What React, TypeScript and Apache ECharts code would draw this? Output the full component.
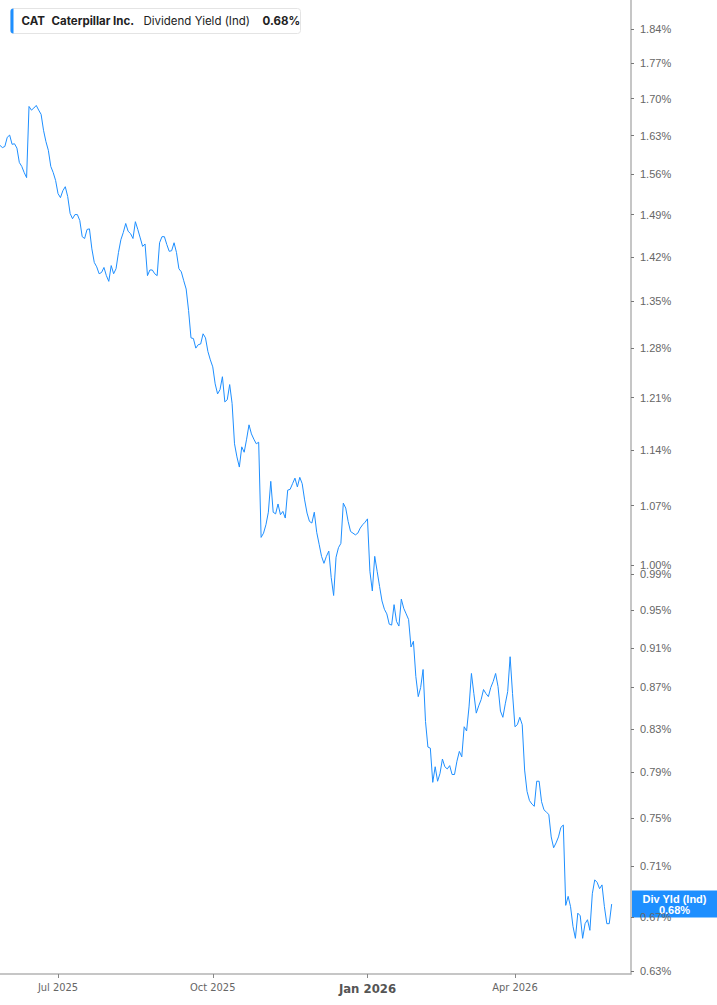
import React, { useEffect, useRef } from 'react';
import * as echarts from 'echarts';

// ---- data ----
const START_DATE = '2025-05-27';
const HOLIDAYS = [
  '2025-06-19', '2025-07-04', '2025-09-01', '2025-11-27', '2025-12-25',
  '2026-01-01', '2026-01-19', '2026-02-16', '2026-04-03', '2026-05-25',
];
const TOTAL_SLOTS = 262; // trading-day slots on the axis (data + right padding)

// Dividend yield (%) per trading day
const yieldValues = [
  1.612, 1.608, 1.610, 1.627, 1.631, 1.614, 1.615, 1.607, 1.581, 1.574,
  1.563, 1.554, 1.685, 1.678, 1.682, 1.687, 1.678, 1.670, 1.640, 1.619,
  1.603, 1.574, 1.563, 1.549, 1.526, 1.519, 1.531, 1.538, 1.521, 1.492,
  1.483, 1.490, 1.490, 1.480, 1.453, 1.450, 1.465, 1.466, 1.433, 1.411,
  1.404, 1.393, 1.395, 1.403, 1.390, 1.381, 1.406, 1.393, 1.401, 1.427,
  1.448, 1.460, 1.475, 1.462, 1.458, 1.450, 1.478, 1.465, 1.451, 1.437,
  1.441, 1.390, 1.399, 1.399, 1.393, 1.390, 1.443, 1.453, 1.453, 1.440,
  1.429, 1.430, 1.443, 1.427, 1.401, 1.396, 1.382, 1.369, 1.336, 1.295,
  1.294, 1.280, 1.285, 1.286, 1.301, 1.295, 1.275, 1.263, 1.253, 1.229,
  1.215, 1.221, 1.239, 1.204, 1.207, 1.228, 1.202, 1.148, 1.131, 1.118,
  1.144, 1.137, 1.154, 1.173, 1.161, 1.154, 1.148, 1.150, 1.032, 1.037,
  1.047, 1.062, 1.100, 1.062, 1.060, 1.072, 1.059, 1.063, 1.055, 1.089,
  1.090, 1.097, 1.104, 1.093, 1.105, 1.097, 1.077, 1.061, 1.051, 1.049,
  1.062, 1.038, 1.024, 1.010, 1.002, 1.010, 1.016, 0.986, 0.966, 1.009,
  1.020, 1.025, 1.073, 1.067, 1.051, 1.039, 1.037, 1.035, 1.037, 1.043,
  1.047, 1.050, 1.054, 0.993, 0.971, 1.010, 0.993, 0.976, 0.960, 0.951,
  0.946, 0.935, 0.934, 0.956, 0.938, 0.933, 0.962, 0.952, 0.946, 0.940,
  0.911, 0.917, 0.881, 0.861, 0.870, 0.888, 0.837, 0.813, 0.812, 0.781,
  0.795, 0.782, 0.789, 0.802, 0.795, 0.793, 0.796, 0.788, 0.788, 0.800,
  0.809, 0.804, 0.832, 0.828, 0.851, 0.884, 0.864, 0.845, 0.852, 0.858,
  0.868, 0.864, 0.861, 0.870, 0.876, 0.884, 0.871, 0.847, 0.841, 0.854,
  0.866, 0.901, 0.864, 0.832, 0.834, 0.841, 0.834, 0.792, 0.773, 0.765,
  0.762, 0.760, 0.782, 0.782, 0.764, 0.757, 0.755, 0.753, 0.734, 0.725,
  0.729, 0.734, 0.742, 0.744, 0.679, 0.686, 0.678, 0.663, 0.654, 0.673,
  0.671, 0.654, 0.665, 0.668, 0.660, 0.688, 0.699, 0.697, 0.692, 0.695,
  0.678, 0.665, 0.665, 0.680,
];

const yTicks = [
  1.84, 1.77, 1.70, 1.63, 1.56, 1.49, 1.42, 1.35, 1.28, 1.21, 1.14, 1.07,
  1.0, 0.99, 0.95, 0.91, 0.87, 0.83, 0.79, 0.75, 0.71, 0.67, 0.63,
];
const Y_MIN = 0.628;
const Y_MAX = 1.902;
const LABEL_MONTHS = [0, 3, 6, 9];
const MONTH_NAMES = ['Jan', 'Feb', 'Mar', 'Apr', 'May', 'Jun', 'Jul', 'Aug', 'Sep', 'Oct', 'Nov', 'Dec'];

const LEGEND_TICKER = 'CAT';
const LEGEND_NAME = 'Caterpillar Inc.';
const LEGEND_METRIC = 'Dividend Yield (Ind)';
const END_LABEL_TITLE = 'Div Yld (Ind)';

const LINE_COLOR = '#1e8fff';

function tradingDays(start: string, count: number, holidays: string[]): string[] {
  const out: string[] = [];
  const d = new Date(start + 'T00:00:00Z');
  while (out.length < count) {
    const wd = d.getUTCDay();
    const iso = d.toISOString().slice(0, 10);
    if (wd !== 0 && wd !== 6 && holidays.indexOf(iso) < 0) out.push(iso);
    d.setUTCDate(d.getUTCDate() + 1);
  }
  return out;
}

export default function App() {
  const ref = useRef<HTMLDivElement>(null);

  useEffect(() => {
    if (!ref.current) return;
    const chart = echarts.init(ref.current, null, { renderer: 'svg' });

    const dates = tradingDays(START_DATE, TOTAL_SLOTS, HOLIDAYS);
    const labelIdx = new Set<number>();
    dates.forEach((d, i) => {
      if (i === 0) return;
      const m = Number(d.slice(5, 7)) - 1;
      const pm = Number(dates[i - 1].slice(5, 7)) - 1;
      if (m !== pm && LABEL_MONTHS.indexOf(m) >= 0) labelIdx.add(i);
    });
    const showAt = (i: number) => labelIdx.has(i);

    const seriesData = yieldValues.map((v) => Math.log(v));
    const last = yieldValues[yieldValues.length - 1];

    chart.setOption({
      animation: false,
      grid: { left: 0, right: 86, top: 0, bottom: 31, containLabel: false },
      xAxis: {
        type: 'category',
        data: dates,
        boundaryGap: false,
        axisLine: { show: true, onZero: false, lineStyle: { color: '#b3b3b3', width: 1.5 } },
        axisTick: { show: true, interval: (i: number) => showAt(i), length: 4, lineStyle: { color: '#888' } },
        axisLabel: {
          interval: (i: number) => showAt(i),
          margin: 8,
          color: '#666',
          fontSize: 11,
          fontFamily: "'Liberation Sans Narrow', 'DejaVu Sans Condensed', Roboto, sans-serif",
          formatter: (val: string) => {
            const m = Number(val.slice(5, 7)) - 1;
            const y = val.slice(0, 4);
            const txt = MONTH_NAMES[m] + ' ' + y;
            return m === 0 ? '{b|' + txt + '}' : txt;
          },
          rich: {
            b: {
              fontWeight: 'bold',
              fontSize: 13,
              color: '#555',
              fontFamily: "'Liberation Sans Narrow', 'DejaVu Sans Condensed', Roboto, sans-serif",
            },
          },
        },
        splitLine: { show: false },
      },
      yAxis: {
        type: 'value',
        position: 'right',
        min: Math.log(Y_MIN),
        max: Math.log(Y_MAX),
        axisLine: { show: true, lineStyle: { color: '#b3b3b3', width: 1.5 } },
        axisTick: {
          show: true,
          length: 3,
          customValues: yTicks.map((t) => Math.log(t)),
          lineStyle: { color: '#777' },
        },
        axisLabel: {
          show: true,
          margin: 9,
          color: '#666',
          fontSize: 11,
          fontFamily: "'Liberation Sans', Arial, sans-serif",
          customValues: yTicks.map((t) => Math.log(t)),
          hideOverlap: false,
          formatter: (v: number) => Math.exp(v).toFixed(2) + '%',
        },
        splitLine: { show: false },
      },
      series: [
        {
          type: 'line',
          data: seriesData,
          showSymbol: false,
          symbol: 'none',
          lineStyle: { color: LINE_COLOR, width: 1 },
          itemStyle: { color: LINE_COLOR },
        },
      ],
    });

    const yPix = chart.convertToPixel({ yAxisIndex: 0 }, Math.log(last)) as number;
    const lastText = last.toFixed(2) + '%';
    const legendFont = "11.5px Inter, 'Noto Sans', sans-serif";
    const legendBold = "bold 11.5px Inter, 'Noto Sans', sans-serif";

    chart.setOption({
      graphic: [
        {
          type: 'group',
          left: 10,
          top: 8,
          children: [
            {
              type: 'rect',
              shape: { x: 0, y: 0, width: 290, height: 25, r: 3 },
              style: { fill: '#fff', stroke: '#e4e4e4', lineWidth: 1 },
            },
            {
              type: 'rect',
              shape: { x: 0, y: 0, width: 3, height: 25, r: [3, 0, 0, 3] },
              style: { fill: LINE_COLOR },
            },
            {
              type: 'text',
              x: 11,
              y: 12.5,
              style: { text: LEGEND_TICKER, fill: '#222', font: legendBold, verticalAlign: 'middle' },
            },
            {
              type: 'text',
              x: 41,
              y: 12.5,
              style: { text: LEGEND_NAME, fill: '#222', font: legendBold, verticalAlign: 'middle' },
            },
            {
              type: 'text',
              x: 133,
              y: 12.5,
              style: { text: LEGEND_METRIC, fill: '#222', font: legendFont, verticalAlign: 'middle' },
            },
            {
              type: 'text',
              x: 252,
              y: 12.5,
              style: { text: lastText, fill: '#222', font: legendBold, verticalAlign: 'middle' },
            },
          ],
        },
        {
          type: 'group',
          x: 632,
          y: yPix - 13.5,
          z: 100,
          children: [
            {
              type: 'rect',
              shape: { x: 0, y: 0, width: 85, height: 27 },
              style: { fill: LINE_COLOR },
            },
            {
              type: 'text',
              x: 42.5,
              y: 8,
              style: {
                text: END_LABEL_TITLE,
                fill: '#fff',
                font: "bold 11px 'Liberation Sans', Arial, sans-serif",
                align: 'center',
                verticalAlign: 'middle',
              },
            },
            {
              type: 'text',
              x: 42.5,
              y: 19.5,
              style: {
                text: lastText,
                fill: '#fff',
                font: "bold 11px 'Liberation Sans', Arial, sans-serif",
                align: 'center',
                verticalAlign: 'middle',
              },
            },
          ],
        },
      ],
    });

    return () => {
      chart.dispose();
    };
  }, []);

  return (
    <div
      ref={ref}
      style={{ position: 'absolute', left: 0, top: 0, width: 717, height: 1005, background: '#fff' }}
    />
  );
}
